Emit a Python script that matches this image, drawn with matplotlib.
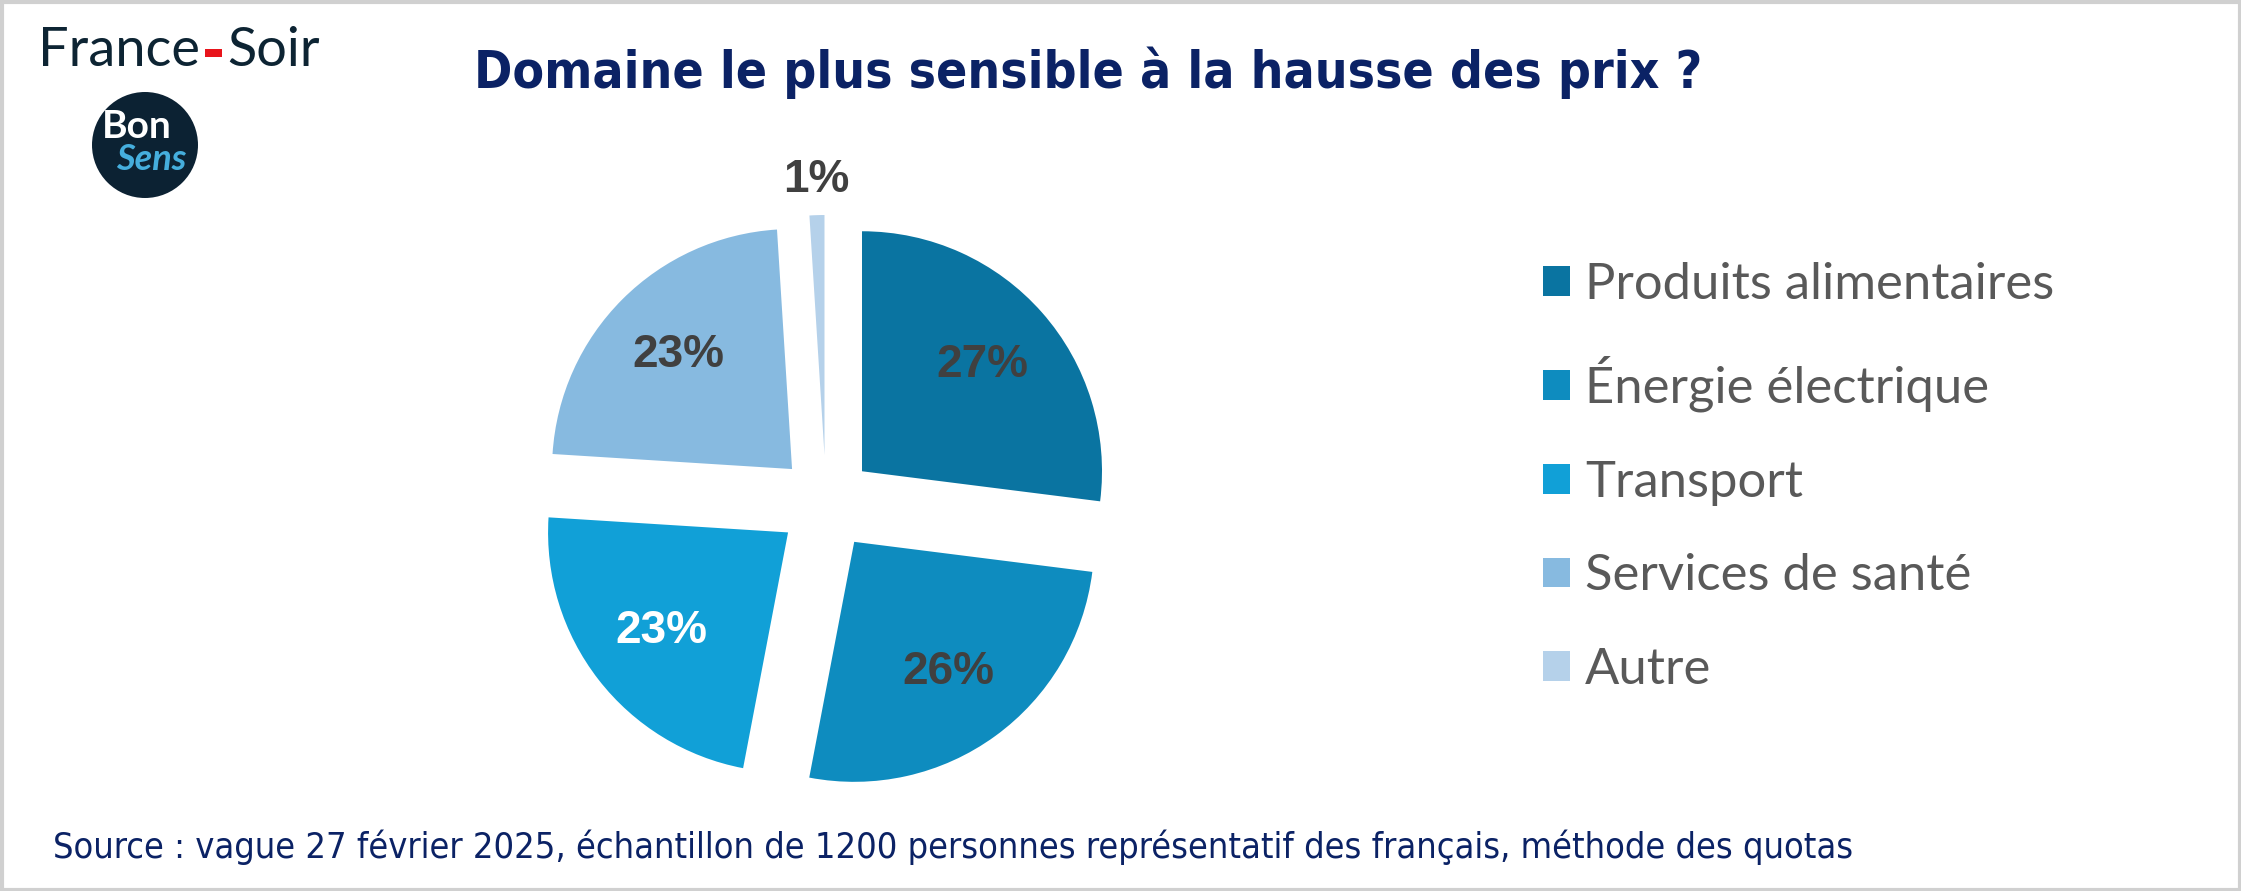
import matplotlib
matplotlib.use("Agg")
import matplotlib.pyplot as plt
from matplotlib.patches import Circle, Rectangle
import numpy as np

# data
categories = ["Produits alimentaires", "Énergie électrique", "Transport",
              "Services de santé", "Autre"]
values = [27, 26, 23, 23, 1]
colors = ["#0A74A1", "#0E8CBF", "#11A0D7", "#87BAE0", "#B5D1EA"]
label_colors = ["#404040", "#404040", "white", "#404040", "#404040"]

title = "Domaine le plus sensible à la hausse des prix ?"
source = ("Source : vague 27 février 2025, échantillon de 1200 personnes "
          "représentatif des français, méthode des quotas")

W, H = 2241, 891
NAVY = "#0B2265"

fig = plt.figure(figsize=(W / 100, H / 100), dpi=100)
fig.patch.set_facecolor("white")

# overlay in pixel coords for the decorations
ov = fig.add_axes([0, 0, 1, 1])
ov.set_xlim(0, W)
ov.set_ylim(H, 0)
ov.axis("off")
ov.add_patch(Rectangle((1.5, 1.5), W - 3, H - 3, fill=False,
                       edgecolor="#D0D0D0", lw=3))

# France-Soir logo
renderer = fig.canvas.get_renderer()
t1 = ov.text(38, 50, "France", fontsize=39, family=["Lato", "DejaVu Sans"],
             fontweight="normal", color="#0D2433", va="center", ha="left")
x1 = t1.get_window_extent(renderer).x1
ov.add_patch(Rectangle((x1 + 5, 49), 17, 8, color="#E8141B", lw=0))
ov.text(x1 + 27, 50, "Soir", fontsize=39, family=["Lato", "DejaVu Sans"],
        fontweight="normal", color="#0D2433", va="center", ha="left")

# Bon Sens logo
ov.add_patch(Circle((145, 145), 53, color="#0C2233", lw=0))
ov.text(137, 127, "Bon", fontsize=28, fontweight="bold", color="white",
        ha="center", va="center", family=["Lato", "DejaVu Sans"])
ov.text(151, 160, "Sens", fontsize=26, fontstyle="italic", fontweight="bold",
        color="#45AEDD", ha="center", va="center", family=["Lato", "DejaVu Sans"])

# title + source
ov.text(1088, 73, title, fontsize=37, fontweight="bold", color=NAVY,
        ha="center", va="center", family="DejaVu Sans", fontstretch="condensed")
ov.text(53, 847, source, fontsize=25.9, color=NAVY, ha="left", va="center",
        family="DejaVu Sans", fontstretch="condensed")

# pie
cx, cy, r = 826, 503, 240
half = 350
ax = fig.add_axes([(cx - half) / W, (H - cy - half) / H, 2 * half / W, 2 * half / H])
explode = [0.2] * len(values)
wedges, texts, autotexts = ax.pie(
    values, colors=colors, startangle=90, counterclock=False,
    explode=explode, autopct=lambda p: f"{p:.0f}%", pctdistance=0.67,
    textprops=dict(fontsize=33, fontweight="bold", family=["Liberation Sans", "DejaVu Sans"]))
for t, c in zip(autotexts, label_colors):
    t.set_color(c)
# the small slice gets its label outside
w = wedges[-1]
mid = np.deg2rad((w.theta1 + w.theta2) / 2)
autotexts[-1].set_position((1.345 * np.cos(mid), 1.345 * np.sin(mid)))
lim = half / r
ax.set_xlim(-lim, lim)
ax.set_ylim(-lim, lim)
ax.set_aspect("auto")

leg = ax.legend(wedges, categories, loc="upper left",
                bbox_to_anchor=(1543 / W, 1 - 262 / H), bbox_transform=fig.transFigure,
                frameon=False, borderpad=0, borderaxespad=0,
                handlelength=0.53, handleheight=0.53, handletextpad=0.3,
                labelspacing=0.94,
                prop=dict(family=["Lato", "DejaVu Sans"], size=36.5))
for t in leg.get_texts():
    t.set_color("#595959")

fig.savefig("out.png", dpi=100, facecolor="white")
